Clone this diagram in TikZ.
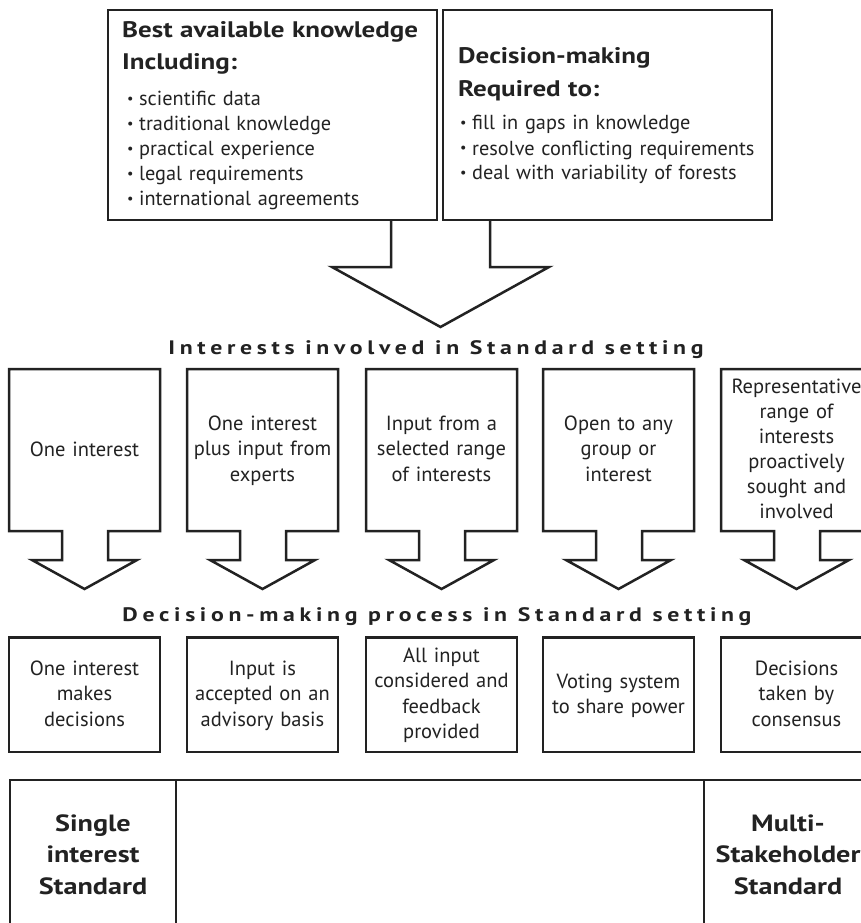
\documentclass[tikz,border=0pt]{standalone}
\usepackage{fontspec}
\setmainfont{PT Sans}[BoldFeatures={FakeStretch=1.2}]
\newfontfamily\spacedfont{PT Sans}[LetterSpace=24, BoldFeatures={FakeStretch=1.22}]
\newcommand\bul{\makebox[12pt][l]{\raisebox{0.12em}{\scalebox{0.7}{•}}}}
\definecolor{ink}{HTML}{222222}
\tikzset{
  shapeline/.style={draw=ink, line width=2.5pt, line join=miter},
  body/.style={font=\fontsize{20.5}{25.5}\selectfont, text=ink, inner sep=0pt, text width=160pt, align=center, anchor=base},
  headtext/.style={font=\bfseries\fontsize{22.5}{32.5}\selectfont, text=ink, inner sep=0pt, text width=320pt, align=left, anchor=base west},
  listtext/.style={font=\fontsize{20.3}{25}\selectfont, text=ink, inner sep=0pt, text width=320pt, align=left, anchor=base west},
  titletext/.style={font=\spacedfont\bfseries\fontsize{19.5}{24}\selectfont, text=ink, inner sep=0pt, anchor=base},
  bigtext/.style={font=\bfseries\fontsize{23.5}{31.5}\selectfont, text=ink, inner sep=0pt, text width=170pt, align=center, anchor=base},
  downbox/.pic={\draw[shapeline] (0,0) -- (151,0) -- (151,162) -- (99,162) -- (99,191) -- (128,191) -- (75.5,220) -- (23,191) -- (53,191) -- (53,162) -- (0,162) -- cycle;}
}
\begin{document}
\begin{tikzpicture}[x=1pt,y=-1pt]
\useasboundingbox (0,0) rectangle (861,923);
\fill[white] (0,0) rectangle (861,923);
\clip (0,0) rectangle (861,923);
% top boxes
\draw[shapeline] (108,10) rectangle (437,220);
\draw[shapeline] (443,10) rectangle (772,220);
\node[headtext] (kh) at (122,37.5) {Best available knowledge\\Including:};
\node[listtext] (kl) at (127,106) {\bul scientific data\\\bul traditional knowledge\\\bul practical experience\\\bul legal requirements\\\bul international agreements};
\node[headtext] (dh) at (458,64) {Decision-making\\Required to:};
\node[listtext] (dl) at (460,130) {\bul fill in gaps in knowledge\\\bul resolve conflicting requirements\\\bul deal with variability of forests};
% big arrow
\draw[shapeline] (391,220) -- (391,267) -- (332,267) -- (440.5,327) -- (549,267) -- (490,267) -- (490,220);
% title 1
\node[titletext] (t1) at (436,354) {Interests involved in Standard setting};
% down arrows
\pic at (9,369) {downbox};
\pic at (187,369) {downbox};
\pic at (366,369) {downbox};
\pic at (543,369) {downbox};
\pic at (721,369) {downbox};
\node[body] (i1) at (84.5,456) {One interest};
\node[body] (i2) at (262.5,430) {One interest\\plus input from\\experts};
\node[body] (i3) at (441.5,430) {Input from a\\selected range\\of interests};
\node[body] (i4) at (618.5,430) {Open to any\\group or\\interest};
\node[body, font=\fontsize{20.5}{25}\selectfont] (i5) at (796.5,393) {Representative\\range of\\interests\\proactively\\sought and\\involved};
% title 2
\node[titletext] (t2) at (437,621) {Decision-making process in Standard setting};
% decision boxes
\foreach \L in {9,187,366,543,721} {
  \draw[shapeline] (\L,637.5) rectangle ({\L+151},752);
}
\node[body] (d1) at (84.5,675) {One interest\\makes\\decisions};
\node[body] (d2) at (262.5,675) {Input is\\accepted on an\\advisory basis};
\node[body] (d3) at (441.5,662) {All input\\considered and\\feedback\\provided};
\node[body] (d4) at (618.5,688) {Voting system\\to share power};
\node[body] (d5) at (796.5,675) {Decisions\\taken by\\consensus};
% bottom scale box
\draw[shapeline] (10,780) rectangle (873,960);
\draw[shapeline] (176,780) -- (176,960);
\draw[shapeline] (704,780) -- (704,960);
\node[bigtext] (s1) at (93,831) {Single\\interest\\Standard};
\node[bigtext] (s2) at (788,831) {Multi-\\Stakeholder\\Standard};
\end{tikzpicture}
\end{document}
